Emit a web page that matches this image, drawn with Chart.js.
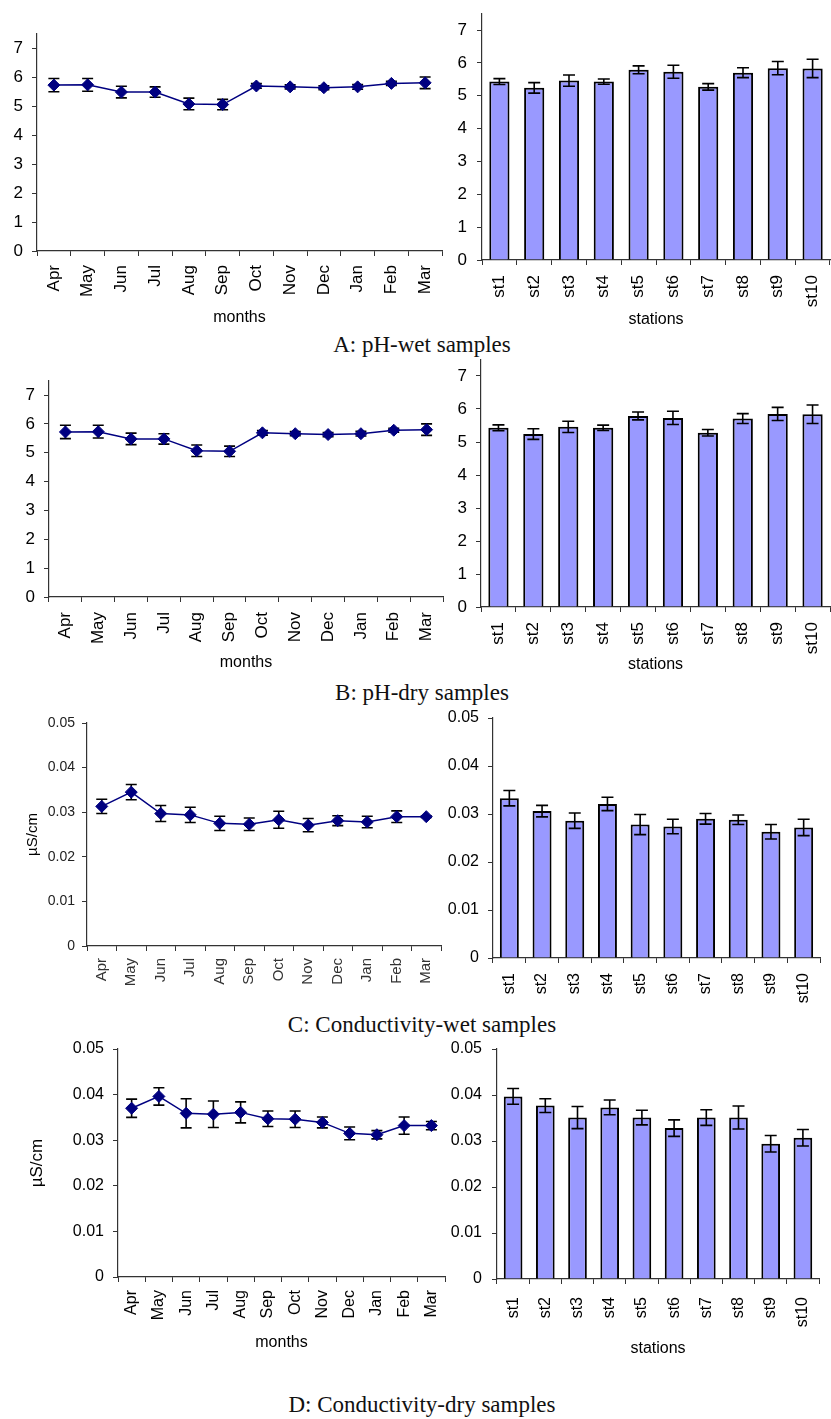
<!DOCTYPE html>
<html>
<head>
<meta charset="utf-8">
<title>pH and conductivity of rain samples</title>
<script src="https://cdn.jsdelivr.net/npm/chart.js@4.4.0/dist/chart.umd.min.js"></script>
<style>
  body { margin: 0; background: #fff; }
  #page { position: relative; width: 831px; height: 1419px; overflow: hidden; background: #fff; }
  #page canvas { position: absolute; }
  .caption { position: absolute; left: 0; width: 844px; text-align: center; font-family: 'Liberation Serif', 'Times New Roman', serif; font-size: 23px; line-height: 23px; color: #111; }
</style>
</head>
<body>
<div id="page">
  <div class="caption" style="top:333px">A: pH-wet samples</div>
  <div class="caption" style="top:681px">B: pH-dry samples</div>
  <div class="caption" style="top:1013px">C: Conductivity-wet samples</div>
  <div class="caption" style="top:1393px">D: Conductivity-dry samples</div>
</div>
<script>
const months = ['Apr', 'May', 'Jun', 'Jul', 'Aug', 'Sep', 'Oct', 'Nov', 'Dec', 'Jan', 'Feb', 'Mar'];
const stations = ['st1', 'st2', 'st3', 'st4', 'st5', 'st6', 'st7', 'st8', 'st9', 'st10'];

// pH, wet samples
const phWetMonth = [5.72, 5.73, 5.48, 5.48, 5.07, 5.05, 5.69, 5.66, 5.63, 5.66, 5.78, 5.80];
const phWetMonthSd = [0.23, 0.22, 0.20, 0.18, 0.20, 0.18, 0.08, 0.07, 0.07, 0.08, 0.07, 0.20];
const phWetStation = [5.43, 5.24, 5.46, 5.43, 5.79, 5.73, 5.27, 5.70, 5.84, 5.83];
const phWetStationSd = [0.09, 0.16, 0.17, 0.08, 0.12, 0.20, 0.10, 0.15, 0.20, 0.28];

// pH, dry samples
const phDryMonth = [5.72, 5.73, 5.48, 5.48, 5.07, 5.05, 5.69, 5.66, 5.63, 5.66, 5.78, 5.80];
const phDryMonthSd = [0.23, 0.22, 0.20, 0.18, 0.20, 0.18, 0.08, 0.07, 0.07, 0.08, 0.07, 0.20];
const phDryStation = [5.43, 5.24, 5.46, 5.43, 5.79, 5.73, 5.28, 5.71, 5.85, 5.84];
const phDryStationSd = [0.09, 0.16, 0.17, 0.08, 0.12, 0.20, 0.10, 0.15, 0.20, 0.28];

// conductivity (uS/cm), wet samples
const condWetMonth = [0.0313, 0.0345, 0.0297, 0.0294, 0.0275, 0.0273, 0.0283, 0.0271, 0.0281, 0.0278, 0.0290, 0.0290];
const condWetMonthSd = [0.0016, 0.0017, 0.0018, 0.0017, 0.0016, 0.0014, 0.0019, 0.0015, 0.0011, 0.0013, 0.0013, 0.0002];
const condWetStation = [0.0333, 0.0306, 0.0286, 0.0321, 0.0278, 0.0274, 0.0290, 0.0288, 0.0263, 0.0272];
const condWetStationSd = [0.0016, 0.0012, 0.0016, 0.0014, 0.0021, 0.0015, 0.0011, 0.0010, 0.0015, 0.0017];

// conductivity (uS/cm), dry samples
const condDryMonth = [0.0370, 0.0396, 0.0359, 0.0357, 0.0361, 0.0347, 0.0346, 0.0339, 0.0315, 0.0312, 0.0332, 0.0332];
const condDryMonthSd = [0.0020, 0.0019, 0.0032, 0.0029, 0.0023, 0.0017, 0.0018, 0.0012, 0.0014, 0.0009, 0.0019, 0.0009];
const condDryStation = [0.0397, 0.0377, 0.0351, 0.0373, 0.0351, 0.0328, 0.0351, 0.0351, 0.0294, 0.0307];
const condDryStationSd = [0.0017, 0.0015, 0.0024, 0.0016, 0.0016, 0.0018, 0.0017, 0.0025, 0.0018, 0.0018];

const FONT = "'Liberation Sans', Arial, sans-serif";
const AXIS = '#333';
const page = document.getElementById('page');

// error bars drawn with the y scale; behind markers for lines, over bars for bars
const errorBars = {
  id: 'errorBars',
  draw(chart) {
    const ctx = chart.ctx;
    const ys = chart.scales.y;
    chart.data.datasets.forEach((ds, i) => {
      if (!ds.errors) return;
      const meta = chart.getDatasetMeta(i);
      ctx.save();
      ctx.strokeStyle = '#000';
      ctx.lineWidth = 1.6;
      meta.data.forEach((el, j) => {
        const v = ds.data[j], e = ds.errors[j];
        const top = ys.getPixelForValue(v + e);
        const bot = ys.getPixelForValue(v - e);
        const w = ds.capWidth;
        ctx.beginPath();
        ctx.moveTo(el.x, top); ctx.lineTo(el.x, bot);
        ctx.moveTo(el.x - w, top); ctx.lineTo(el.x + w, top);
        ctx.moveTo(el.x - w, bot); ctx.lineTo(el.x + w, bot);
        ctx.stroke();
      });
      ctx.restore();
    });
  },
  beforeDatasetsDraw(chart) { if (chart.config.type === 'line') this.draw(chart); },
  afterDatasetsDraw(chart) { if (chart.config.type === 'bar') this.draw(chart); }
};

function panel(cfg) {
  const b = cfg.box, a = cfg.area;
  const cv = document.createElement('canvas');
  cv.width = b.w; cv.height = b.h;
  cv.style.left = b.x + 'px';
  cv.style.top = b.y + 'px';
  page.appendChild(cv);

  const yWidth = a.l - b.x;
  const xHeight = b.y + b.h - a.b;
  const titleSize = 16;

  let dataset;
  if (cfg.type === 'line') {
    dataset = {
      data: cfg.values, errors: cfg.errors, capWidth: 5.5,
      borderColor: '#000080', borderWidth: 1.5, tension: 0,
      pointStyle: 'rectRot', pointRadius: 6,
      pointBackgroundColor: '#000080', pointBorderColor: '#000080', pointBorderWidth: 1
    };
  } else {
    dataset = {
      data: cfg.values, errors: cfg.errors, capWidth: 6,
      backgroundColor: '#9999ff', borderColor: '#000', borderWidth: 2,
      categoryPercentage: 1, barPercentage: 0.58
    };
  }

  const fmt = cfg.yMax < 1 ? (v => v === 0 ? '0' : v.toFixed(2)) : (v => String(v));

  return new Chart(cv, {
    type: cfg.type,
    data: { labels: cfg.labels, datasets: [dataset] },
    options: {
      responsive: false,
      animation: false,
      events: [],
      layout: { padding: { left: 0, top: a.t - b.y, right: b.x + b.w - a.r, bottom: 0 } },
      plugins: { legend: { display: false }, tooltip: { enabled: false } },
      scales: {
        x: {
          type: 'category',
          offset: true,
          grid: { display: true, drawOnChartArea: false, offset: true, tickLength: 5, color: AXIS },
          border: { color: AXIS, width: 1.2 },
          ticks: {
            autoSkip: false, minRotation: 90, maxRotation: 90,
            padding: cfg.xGap - 5,
            color: cfg.xColor || '#000',
            font: { family: FONT, size: cfg.xSize || 16 }
          },
          title: cfg.xTitle ? {
            display: true, text: cfg.xTitle, color: '#000',
            font: { family: FONT, size: titleSize },
            padding: { top: 0, bottom: b.y + b.h - cfg.xTitleY - titleSize * 0.6 }
          } : { display: false },
          afterFit(s) { s.height = xHeight; s.paddingLeft = 0; s.paddingRight = 0; s.paddingTop = 0; s.paddingBottom = 0; }
        },
        y: {
          min: 0, max: cfg.yMax,
          grid: { display: true, drawOnChartArea: false, tickLength: 5, color: AXIS },
          border: { color: AXIS, width: 1.2 },
          ticks: {
            stepSize: cfg.yStep, includeBounds: false,
            padding: cfg.yGap - 5,
            color: cfg.yColor || '#000',
            font: { family: FONT, size: cfg.ySize || 16 },
            callback: fmt
          },
          title: cfg.yTitle ? {
            display: true, text: cfg.yTitle, color: '#000',
            font: { family: FONT, size: cfg.yTitleSize },
            padding: { top: cfg.yTitleX - b.x - cfg.yTitleSize * 0.6, bottom: 0 }
          } : { display: false },
          afterFit(s) { s.width = yWidth; s.paddingLeft = 0; s.paddingRight = 0; s.paddingTop = 0; s.paddingBottom = 0; }
        }
      }
    },
    plugins: [errorBars]
  });
}

// A: pH-wet
panel({ type: 'line', labels: months, values: phWetMonth, errors: phWetMonthSd,
  box: { x: 0, y: 0, w: 452, h: 340 }, area: { l: 37, t: 33.5, r: 442, b: 251 },
  yMax: 7.5, yStep: 1, yGap: 14, xGap: 14, ySize: 17, xSize: 17, xTitle: 'months', xTitleY: 318 });
panel({ type: 'bar', labels: stations, values: phWetStation, errors: phWetStationSd,
  box: { x: 440, y: 0, w: 391, h: 340 }, area: { l: 482, t: 13.6, r: 830, b: 260 },
  yMax: 7.5, yStep: 1, yGap: 15, xGap: 15, ySize: 17, xSize: 17, xTitle: 'stations', xTitleY: 320 });

// B: pH-dry
panel({ type: 'line', labels: months, values: phDryMonth, errors: phDryMonthSd,
  box: { x: 0, y: 360, w: 452, h: 320 }, area: { l: 49, t: 380.6, r: 443, b: 597 },
  yMax: 7.5, yStep: 1, yGap: 14, xGap: 15, ySize: 17, xSize: 17, xTitle: 'months', xTitleY: 663 });
panel({ type: 'bar', labels: stations, values: phDryStation, errors: phDryStationSd,
  box: { x: 440, y: 345, w: 391, h: 335 }, area: { l: 481, t: 359.5, r: 830, b: 607 },
  yMax: 7.5, yStep: 1, yGap: 14, xGap: 15, ySize: 17, xSize: 17, xTitle: 'stations', xTitleY: 665 });

// C: conductivity-wet
panel({ type: 'line', labels: months, values: condWetMonth, errors: condWetMonthSd,
  box: { x: 0, y: 705, w: 452, h: 305 }, area: { l: 87, t: 723, r: 441, b: 946 },
  yMax: 0.05, yStep: 0.01, yGap: 12, xGap: 12, ySize: 14, yColor: '#222',
  xSize: 15, xColor: '#333', yTitle: 'µS/cm', yTitleX: 33, yTitleSize: 15 });
panel({ type: 'bar', labels: stations, values: condWetStation, errors: condWetStationSd,
  box: { x: 440, y: 700, w: 391, h: 310 }, area: { l: 493, t: 718, r: 820, b: 958 },
  yMax: 0.05, yStep: 0.01, yGap: 14, xGap: 15 });

// D: conductivity-dry
panel({ type: 'line', labels: months, values: condDryMonth, errors: condDryMonthSd,
  box: { x: 0, y: 1035, w: 452, h: 340 }, area: { l: 118, t: 1049, r: 447, b: 1277 },
  yMax: 0.05, yStep: 0.01, yGap: 14, xGap: 13, xTitle: 'months', xTitleY: 1343,
  yTitle: 'µS/cm', yTitleX: 37, yTitleSize: 17 });
panel({ type: 'bar', labels: stations, values: condDryStation, errors: condDryStationSd,
  box: { x: 440, y: 1035, w: 391, h: 340 }, area: { l: 497, t: 1049, r: 819, b: 1279 },
  yMax: 0.05, yStep: 0.01, yGap: 15, xGap: 18, xTitle: 'stations', xTitleY: 1349 });
</script>
</body>
</html>
